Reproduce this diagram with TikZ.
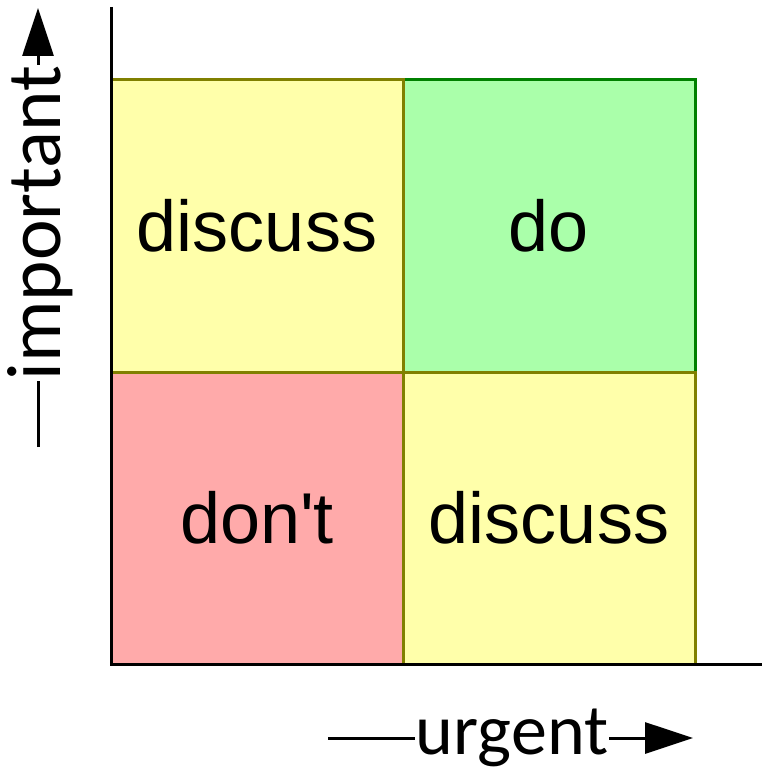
\documentclass[tikz,border=0pt]{standalone}
\usepackage{fontspec}
\newfontfamily\cellfont{Liberation Sans}
\newfontfamily\axisfont{Carlito}
\usetikzlibrary{arrows.meta,positioning}

\definecolor{cellyellow}{HTML}{FFFFAA}
\definecolor{cellgreen}{HTML}{AAFFAA}
\definecolor{cellred}{HTML}{FFAAAA}
\definecolor{cellolive}{HTML}{808000}
\definecolor{cellgreenline}{HTML}{008000}

\tikzset{
  cell/.style={rectangle,draw=cellolive,line width=3pt,minimum size=292pt,
    inner sep=0pt,font=\cellfont\fontsize{72}{80}\selectfont},
  axis/.style={line width=3pt},
  axislabel/.style={inner sep=1pt,font=\axisfont\fontsize{72}{80}\selectfont}
}

\begin{document}
\begin{tikzpicture}[x=1pt,y=1pt,node distance=292pt,on grid]
   \useasboundingbox (0,0) rectangle (762,-773);
   \node[cell,fill=cellgreen,draw=cellgreenline] (do) at (549,-226) {do};
   \node[cell,fill=cellyellow] (disc_1) [left=of do] {discuss};
   \node[cell,fill=cellred] (dont) [below=of disc_1] {don't};
   \node[cell,fill=cellyellow] (disc_2) [right=of dont] {discuss};
   % axes
   \coordinate (origin) at (111,-664);
   \coordinate (ytop) at (111,-7);
   \coordinate (xend) at (762,-664);
   \draw[axis] (ytop) -- (origin) -- (xend);
   % axis labels
   \node[axislabel,anchor=base] (urgent) at (512,-754) {urgent};
   \coordinate (urg_a) at (328,-738);
   \coordinate (urg_b) at (693,-738);
   \draw[axis] (urg_a) -- (urg_a -| urgent.west);
   \draw[axis,-{Triangle[length=48pt,width=31pt]}] (urg_b -| urgent.east) -- (urg_b);
   \node[axislabel,anchor=base,rotate=90,font=\axisfont\fontsize{77}{80}\selectfont] (important) at (60,-223) {important};
   \coordinate (imp_a) at (38,-447);
   \coordinate (imp_b) at (38,-8);
   \draw[axis] (imp_a) -- (imp_a |- important.west);
   \draw[axis,-{Triangle[length=48pt,width=31pt]}] (imp_b |- important.east) -- (imp_b);
\end{tikzpicture}
\end{document}
